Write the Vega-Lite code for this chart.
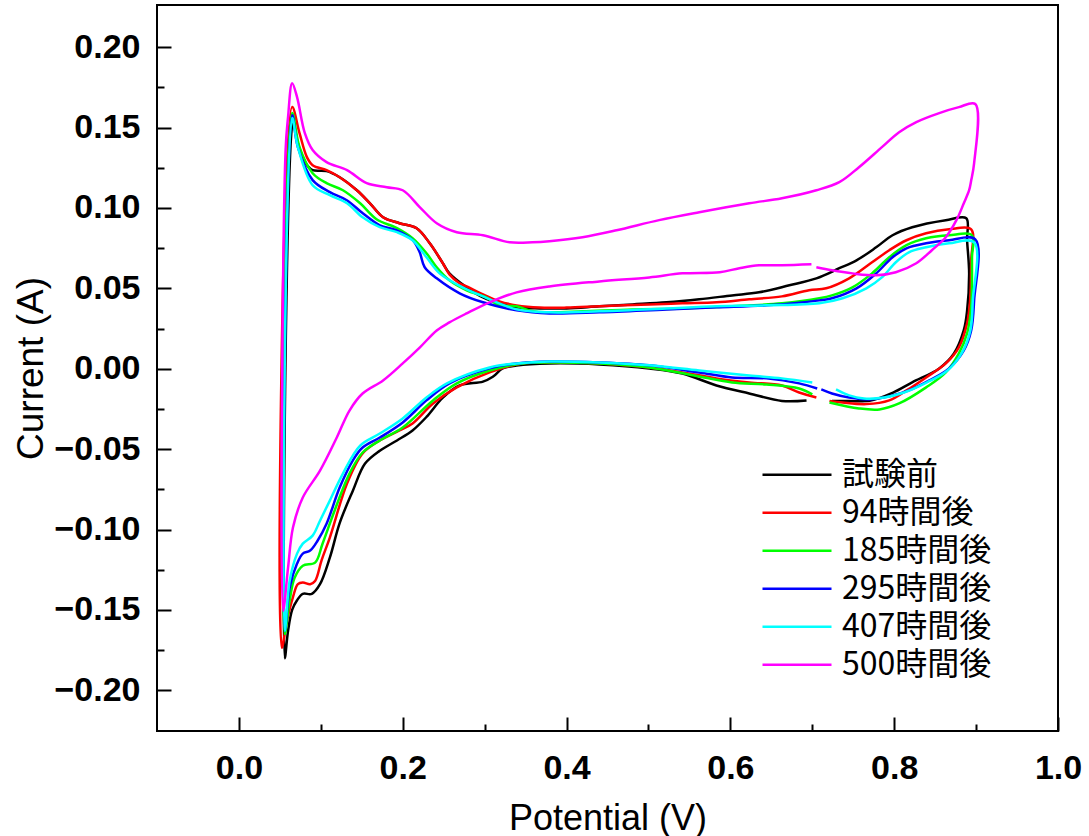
{
  "$schema": "https://vega.github.io/schema/vega-lite/v6.json",
  "autosize": "none",
  "padding": {"left": 157, "top": 5, "right": 31, "bottom": 105},
  "width": 901,
  "height": 726,
  "background": "white",
  "config": {"view": {"stroke": "black", "strokeWidth": 2}},
  "data": {"values": [
    {"s":"試験前","x":0.724,"y":-0.020},{"s":"試験前","x":0.745,"y":-0.020},{"s":"試験前","x":0.770,"y":-0.020},{"s":"試験前","x":0.798,"y":-0.015},{"s":"試験前","x":0.822,"y":-0.0085},{"s":"試験前","x":0.855,"y":0.0002},{"s":"試験前","x":0.873,"y":0.0095},{"s":"試験前","x":0.885,"y":0.024},{"s":"試験前","x":0.889,"y":0.036},{"s":"試験前","x":0.8915,"y":0.0593},{"s":"試験前","x":0.889,"y":0.080},{"s":"試験前","x":0.888,"y":0.0936},{"s":"試験前","x":0.863,"y":0.0924},{"s":"試験前","x":0.822,"y":0.088},{"s":"試験前","x":0.798,"y":0.083},{"s":"試験前","x":0.778,"y":0.0755},{"s":"試験前","x":0.754,"y":0.0674},{"s":"試験前","x":0.733,"y":0.0625},{"s":"試験前","x":0.705,"y":0.0562},{"s":"試験前","x":0.672,"y":0.0519},{"s":"試験前","x":0.635,"y":0.0475},{"s":"試験前","x":0.602,"y":0.0456},{"s":"試験前","x":0.562,"y":0.0432},{"s":"試験前","x":0.522,"y":0.0413},{"s":"試験前","x":0.4805,"y":0.040},{"s":"試験前","x":0.440,"y":0.0388},{"s":"試験前","x":0.400,"y":0.0375},{"s":"試験前","x":0.367,"y":0.0375},{"s":"試験前","x":0.339,"y":0.0382},{"s":"試験前","x":0.318,"y":0.0407},{"s":"試験前","x":0.298,"y":0.0444},{"s":"試験前","x":0.278,"y":0.0506},{"s":"試験前","x":0.257,"y":0.0593},{"s":"試験前","x":0.249,"y":0.0656},{"s":"試験前","x":0.233,"y":0.078},{"s":"試験前","x":0.217,"y":0.0874},{"s":"試験前","x":0.196,"y":0.0905},{"s":"試験前","x":0.176,"y":0.0942},{"s":"試験前","x":0.160,"y":0.1029},{"s":"試験前","x":0.144,"y":0.111},{"s":"試験前","x":0.123,"y":0.1191},{"s":"試験前","x":0.107,"y":0.1229},{"s":"試験前","x":0.090,"y":0.1235},{"s":"試験前","x":0.084,"y":0.126},{"s":"試験前","x":0.077,"y":0.1328},{"s":"試験前","x":0.071,"y":0.1421},{"s":"試験前","x":0.066,"y":0.1534},{"s":"試験前","x":0.056,"y":-0.180},{"s":"試験前","x":0.060,"y":-0.163},{"s":"試験前","x":0.065,"y":-0.150},{"s":"試験前","x":0.071,"y":-0.144},{"s":"試験前","x":0.078,"y":-0.140},{"s":"試験前","x":0.089,"y":-0.140},{"s":"試験前","x":0.099,"y":-0.134},{"s":"試験前","x":0.111,"y":-0.1175},{"s":"試験前","x":0.123,"y":-0.096},{"s":"試験前","x":0.139,"y":-0.076},{"s":"試験前","x":0.154,"y":-0.059},{"s":"試験前","x":0.172,"y":-0.051},{"s":"試験前","x":0.193,"y":-0.0446},{"s":"試験前","x":0.212,"y":-0.0384},{"s":"試験前","x":0.229,"y":-0.030},{"s":"試験前","x":0.249,"y":-0.018},{"s":"試験前","x":0.2695,"y":-0.0104},{"s":"試験前","x":0.298,"y":-0.008},{"s":"試験前","x":0.310,"y":-0.005},{"s":"試験前","x":0.322,"y":0.0002},{"s":"試験前","x":0.339,"y":0.002},{"s":"試験前","x":0.379,"y":0.0033},{"s":"試験前","x":0.440,"y":0.0027},{"s":"試験前","x":0.501,"y":0.0002},{"s":"試験前","x":0.5415,"y":-0.003},{"s":"試験前","x":0.583,"y":-0.0104},{"s":"試験前","x":0.623,"y":-0.0154},{"s":"試験前","x":0.663,"y":-0.020},{"s":"試験前","x":0.693,"y":-0.0197},

    {"s":"94時間後","x":0.721,"y":-0.020},{"s":"94時間後","x":0.737,"y":-0.021},{"s":"94時間後","x":0.766,"y":-0.022},{"s":"94時間後","x":0.794,"y":-0.0197},{"s":"94時間後","x":0.815,"y":-0.0135},{"s":"94時間後","x":0.839,"y":-0.0054},{"s":"94時間後","x":0.863,"y":0.0033},{"s":"94時間後","x":0.879,"y":0.0133},{"s":"94時間後","x":0.889,"y":0.0282},{"s":"94時間後","x":0.8927,"y":0.0425},{"s":"94時間後","x":0.894,"y":0.0674},{"s":"94時間後","x":0.894,"y":0.0867},{"s":"94時間後","x":0.867,"y":0.0867},{"s":"94時間後","x":0.839,"y":0.0842},{"s":"94時間後","x":0.815,"y":0.0799},{"s":"94時間後","x":0.794,"y":0.0737},{"s":"94時間後","x":0.773,"y":0.0662},{"s":"94時間後","x":0.745,"y":0.0562},{"s":"94時間後","x":0.717,"y":0.050},{"s":"94時間後","x":0.696,"y":0.0488},{"s":"94時間後","x":0.663,"y":0.045},{"s":"94時間後","x":0.623,"y":0.0432},{"s":"94時間後","x":0.583,"y":0.0413},{"s":"94時間後","x":0.5415,"y":0.0407},{"s":"94時間後","x":0.501,"y":0.040},{"s":"94時間後","x":0.440,"y":0.0388},{"s":"94時間後","x":0.400,"y":0.038},{"s":"94時間後","x":0.367,"y":0.038},{"s":"94時間後","x":0.339,"y":0.0394},{"s":"94時間後","x":0.318,"y":0.0419},{"s":"94時間後","x":0.298,"y":0.0463},{"s":"94時間後","x":0.278,"y":0.0512},{"s":"94時間後","x":0.2695,"y":0.0531},{"s":"94時間後","x":0.257,"y":0.0587},{"s":"94時間後","x":0.249,"y":0.0656},{"s":"94時間後","x":0.233,"y":0.078},{"s":"94時間後","x":0.217,"y":0.0874},{"s":"94時間後","x":0.196,"y":0.0905},{"s":"94時間後","x":0.176,"y":0.0942},{"s":"94時間後","x":0.160,"y":0.1029},{"s":"94時間後","x":0.144,"y":0.111},{"s":"94時間後","x":0.123,"y":0.1191},{"s":"94時間後","x":0.107,"y":0.1235},{"s":"94時間後","x":0.090,"y":0.1266},{"s":"94時間後","x":0.083,"y":0.1316},{"s":"94時間後","x":0.074,"y":0.1465},{"s":"94時間後","x":0.065,"y":0.1627},{"s":"94時間後","x":0.0524,"y":-0.1735},{"s":"94時間後","x":0.0585,"y":-0.157},{"s":"94時間後","x":0.066,"y":-0.142},{"s":"94時間後","x":0.072,"y":-0.134},{"s":"94時間後","x":0.078,"y":-0.133},{"s":"94時間後","x":0.087,"y":-0.134},{"s":"94時間後","x":0.093,"y":-0.132},{"s":"94時間後","x":0.101,"y":-0.119},{"s":"94時間後","x":0.111,"y":-0.105},{"s":"94時間後","x":0.132,"y":-0.0714},{"s":"94時間後","x":0.151,"y":-0.0527},{"s":"94時間後","x":0.172,"y":-0.0446},{"s":"94時間後","x":0.196,"y":-0.0384},{"s":"94時間後","x":0.212,"y":-0.034},{"s":"94時間後","x":0.237,"y":-0.0216},{"s":"94時間後","x":0.266,"y":-0.0116},{"s":"94時間後","x":0.306,"y":-0.0023},{"s":"94時間後","x":0.346,"y":0.0033},{"s":"94時間後","x":0.379,"y":0.0039},{"s":"94時間後","x":0.440,"y":0.0033},{"s":"94時間後","x":0.501,"y":0.0008},{"s":"94時間後","x":0.5415,"y":-0.0023},{"s":"94時間後","x":0.583,"y":-0.006},{"s":"94時間後","x":0.623,"y":-0.0085},{"s":"94時間後","x":0.663,"y":-0.0104},{"s":"94時間後","x":0.684,"y":-0.0148},{"s":"94時間後","x":0.705,"y":-0.0179},

    {"s":"185時間後","x":0.721,"y":-0.021},{"s":"185時間後","x":0.757,"y":-0.0247},{"s":"185時間後","x":0.782,"y":-0.0253},{"s":"185時間後","x":0.806,"y":-0.0216},{"s":"185時間後","x":0.839,"y":-0.0116},{"s":"185時間後","x":0.863,"y":-0.0023},{"s":"185時間後","x":0.879,"y":0.0095},{"s":"185時間後","x":0.889,"y":0.022},{"s":"185時間後","x":0.894,"y":0.0382},{"s":"185時間後","x":0.895,"y":0.0693},{"s":"185時間後","x":0.895,"y":0.083},{"s":"185時間後","x":0.867,"y":0.083},{"s":"185時間後","x":0.839,"y":0.0811},{"s":"185時間後","x":0.815,"y":0.0768},{"s":"185時間後","x":0.794,"y":0.0693},{"s":"185時間後","x":0.773,"y":0.0593},{"s":"185時間後","x":0.749,"y":0.0506},{"s":"185時間後","x":0.724,"y":0.0456},{"s":"185時間後","x":0.7085,"y":0.0438},{"s":"185時間後","x":0.663,"y":0.0407},{"s":"185時間後","x":0.602,"y":0.0388},{"s":"185時間後","x":0.5415,"y":0.0375},{"s":"185時間後","x":0.4805,"y":0.0369},{"s":"185時間後","x":0.4195,"y":0.0357},{"s":"185時間後","x":0.379,"y":0.0351},{"s":"185時間後","x":0.3585,"y":0.0357},{"s":"185時間後","x":0.339,"y":0.0388},{"s":"185時間後","x":0.318,"y":0.0394},{"s":"185時間後","x":0.302,"y":0.0444},{"s":"185時間後","x":0.278,"y":0.0488},{"s":"185時間後","x":0.257,"y":0.055},{"s":"185時間後","x":0.2415,"y":0.0631},{"s":"185時間後","x":0.229,"y":0.0718},{"s":"185時間後","x":0.212,"y":0.0811},{"s":"185時間後","x":0.193,"y":0.0874},{"s":"185時間後","x":0.168,"y":0.093},{"s":"185時間後","x":0.148,"y":0.1029},{"s":"185時間後","x":0.127,"y":0.111},{"s":"185時間後","x":0.107,"y":0.1154},{"s":"185時間後","x":0.090,"y":0.1216},{"s":"185時間後","x":0.074,"y":0.1378},{"s":"185時間後","x":0.065,"y":0.159},{"s":"185時間後","x":0.056,"y":-0.165},{"s":"185時間後","x":0.062,"y":-0.144},{"s":"185時間後","x":0.068,"y":-0.130},{"s":"185時間後","x":0.078,"y":-0.1225},{"s":"185時間後","x":0.093,"y":-0.1206},{"s":"185時間後","x":0.102,"y":-0.109},{"s":"185時間後","x":0.117,"y":-0.088},{"s":"185時間後","x":0.135,"y":-0.0652},{"s":"185時間後","x":0.151,"y":-0.0521},{"s":"185時間後","x":0.172,"y":-0.0446},{"s":"185時間後","x":0.200,"y":-0.0365},{"s":"185時間後","x":0.237,"y":-0.0197},{"s":"185時間後","x":0.266,"y":-0.0091},{"s":"185時間後","x":0.306,"y":-0.0011},{"s":"185時間後","x":0.346,"y":0.0033},{"s":"185時間後","x":0.379,"y":0.0039},{"s":"185時間後","x":0.440,"y":0.0033},{"s":"185時間後","x":0.501,"y":0.0008},{"s":"185時間後","x":0.562,"y":-0.0048},{"s":"185時間後","x":0.602,"y":-0.0085},{"s":"185時間後","x":0.644,"y":-0.0098},{"s":"185時間後","x":0.684,"y":-0.0123},{"s":"185時間後","x":0.700,"y":-0.016},

    {"s":"295時間後","x":0.711,"y":-0.0129},{"s":"295時間後","x":0.724,"y":-0.0154},{"s":"295時間後","x":0.745,"y":-0.0179},{"s":"295時間後","x":0.770,"y":-0.0191},{"s":"295時間後","x":0.794,"y":-0.0172},{"s":"295時間後","x":0.818,"y":-0.0135},{"s":"295時間後","x":0.843,"y":-0.0073},{"s":"295時間後","x":0.867,"y":0.0002},{"s":"295時間後","x":0.885,"y":0.0114},{"s":"295時間後","x":0.894,"y":0.0238},{"s":"295時間後","x":0.8976,"y":0.0425},{"s":"295時間後","x":0.899,"y":0.0805},{"s":"295時間後","x":0.867,"y":0.0799},{"s":"295時間後","x":0.839,"y":0.078},{"s":"295時間後","x":0.815,"y":0.0749},{"s":"295時間後","x":0.798,"y":0.0693},{"s":"295時間後","x":0.778,"y":0.0593},{"s":"295時間後","x":0.754,"y":0.050},{"s":"295時間後","x":0.724,"y":0.0438},{"s":"295時間後","x":0.7085,"y":0.0425},{"s":"295時間後","x":0.644,"y":0.0394},{"s":"295時間後","x":0.583,"y":0.0382},{"s":"295時間後","x":0.522,"y":0.0369},{"s":"295時間後","x":0.440,"y":0.0351},{"s":"295時間後","x":0.379,"y":0.0344},{"s":"295時間後","x":0.339,"y":0.0363},{"s":"295時間後","x":0.298,"y":0.0413},{"s":"295時間後","x":0.2695,"y":0.0469},{"s":"295時間後","x":0.2415,"y":0.0562},{"s":"295時間後","x":0.2268,"y":0.0631},{"s":"295時間後","x":0.2207,"y":0.0724},{"s":"295時間後","x":0.2122,"y":0.0799},{"s":"295時間後","x":0.1927,"y":0.0861},{"s":"295時間後","x":0.172,"y":0.0892},{"s":"295時間後","x":0.1512,"y":0.0967},{"s":"295時間後","x":0.1317,"y":0.1048},{"s":"295時間後","x":0.111,"y":0.1098},{"s":"295時間後","x":0.090,"y":0.1173},{"s":"295時間後","x":0.072,"y":0.1378},{"s":"295時間後","x":0.065,"y":0.1577},{"s":"295時間後","x":0.056,"y":-0.163},{"s":"295時間後","x":0.062,"y":-0.136},{"s":"295時間後","x":0.071,"y":-0.1212},{"s":"295時間後","x":0.078,"y":-0.115},{"s":"295時間後","x":0.087,"y":-0.1131},{"s":"295時間後","x":0.096,"y":-0.107},{"s":"295時間後","x":0.107,"y":-0.0964},{"s":"295時間後","x":0.123,"y":-0.0739},{"s":"295時間後","x":0.139,"y":-0.0571},{"s":"295時間後","x":0.151,"y":-0.049},{"s":"295時間後","x":0.172,"y":-0.0428},{"s":"295時間後","x":0.200,"y":-0.0334},{"s":"295時間後","x":0.229,"y":-0.0197},{"s":"295時間後","x":0.257,"y":-0.0091},{"s":"295時間後","x":0.306,"y":0.0002},{"s":"295時間後","x":0.339,"y":0.0033},{"s":"295時間後","x":0.379,"y":0.0045},{"s":"295時間後","x":0.440,"y":0.0039},{"s":"295時間後","x":0.501,"y":0.0021},{"s":"295時間後","x":0.562,"y":-0.0023},{"s":"295時間後","x":0.602,"y":-0.0054},{"s":"295時間後","x":0.644,"y":-0.006},{"s":"295時間後","x":0.684,"y":-0.0091},{"s":"295時間後","x":0.706,"y":-0.0123},

    {"s":"407時間後","x":0.729,"y":-0.0129},{"s":"407時間後","x":0.745,"y":-0.0166},{"s":"407時間後","x":0.763,"y":-0.0185},{"s":"407時間後","x":0.788,"y":-0.0179},{"s":"407時間後","x":0.812,"y":-0.0148},{"s":"407時間後","x":0.840,"y":-0.0085},{"s":"407時間後","x":0.865,"y":-0.0011},{"s":"407時間後","x":0.883,"y":0.0102},{"s":"407時間後","x":0.893,"y":0.0238},{"s":"407時間後","x":0.896,"y":0.0425},{"s":"407時間後","x":0.8976,"y":0.0786},{"s":"407時間後","x":0.867,"y":0.078},{"s":"407時間後","x":0.839,"y":0.0755},{"s":"407時間後","x":0.818,"y":0.0724},{"s":"407時間後","x":0.802,"y":0.0662},{"s":"407時間後","x":0.785,"y":0.0568},{"s":"407時間後","x":0.766,"y":0.050},{"s":"407時間後","x":0.737,"y":0.0438},{"s":"407時間後","x":0.7085,"y":0.0407},{"s":"407時間後","x":0.644,"y":0.0394},{"s":"407時間後","x":0.583,"y":0.0388},{"s":"407時間後","x":0.522,"y":0.0375},{"s":"407時間後","x":0.440,"y":0.0357},{"s":"407時間後","x":0.379,"y":0.0351},{"s":"407時間後","x":0.339,"y":0.0369},{"s":"407時間後","x":0.298,"y":0.045},{"s":"407時間後","x":0.273,"y":0.0506},{"s":"407時間後","x":0.245,"y":0.0593},{"s":"407時間後","x":0.229,"y":0.0693},{"s":"407時間後","x":0.212,"y":0.0799},{"s":"407時間後","x":0.193,"y":0.0849},{"s":"407時間後","x":0.172,"y":0.088},{"s":"407時間後","x":0.151,"y":0.0942},{"s":"407時間後","x":0.132,"y":0.1029},{"s":"407時間後","x":0.111,"y":0.1079},{"s":"407時間後","x":0.090,"y":0.1141},{"s":"407時間後","x":0.072,"y":0.1378},{"s":"407時間後","x":0.065,"y":0.1559},{"s":"407時間後","x":0.056,"y":-0.163},{"s":"407時間後","x":0.062,"y":-0.1318},{"s":"407時間後","x":0.071,"y":-0.115},{"s":"407時間後","x":0.078,"y":-0.1088},{"s":"407時間後","x":0.090,"y":-0.1038},{"s":"407時間後","x":0.099,"y":-0.0945},{"s":"407時間後","x":0.111,"y":-0.082},{"s":"407時間後","x":0.127,"y":-0.0652},{"s":"407時間後","x":0.148,"y":-0.0478},{"s":"407時間後","x":0.172,"y":-0.0403},{"s":"407時間後","x":0.200,"y":-0.0309},{"s":"407時間後","x":0.229,"y":-0.0179},{"s":"407時間後","x":0.254,"y":-0.0091},{"s":"407時間後","x":0.306,"y":0.0008},{"s":"407時間後","x":0.339,"y":0.0033},{"s":"407時間後","x":0.379,"y":0.0045},{"s":"407時間後","x":0.440,"y":0.0039},{"s":"407時間後","x":0.501,"y":0.0021},{"s":"407時間後","x":0.562,"y":-0.0011},{"s":"407時間後","x":0.623,"y":-0.0042},{"s":"407時間後","x":0.663,"y":-0.006},{"s":"407時間後","x":0.700,"y":-0.0085},

    {"s":"500時間後","x":0.705,"y":0.0631},{"s":"500時間後","x":0.724,"y":0.0612},{"s":"500時間後","x":0.749,"y":0.0593},{"s":"500時間後","x":0.778,"y":0.0581},{"s":"500時間後","x":0.802,"y":0.060},{"s":"500時間後","x":0.827,"y":0.0656},{"s":"500時間後","x":0.846,"y":0.0737},{"s":"500時間後","x":0.863,"y":0.0818},{"s":"500時間後","x":0.876,"y":0.0924},{"s":"500時間後","x":0.885,"y":0.1029},{"s":"500時間後","x":0.8915,"y":0.111},{"s":"500時間後","x":0.894,"y":0.117},{"s":"500時間後","x":0.8976,"y":0.1278},{"s":"500時間後","x":0.899,"y":0.1646},{"s":"500時間後","x":0.879,"y":0.1627},{"s":"500時間後","x":0.855,"y":0.159},{"s":"500時間後","x":0.827,"y":0.1534},{"s":"500時間後","x":0.806,"y":0.1471},{"s":"500時間後","x":0.785,"y":0.1378},{"s":"500時間後","x":0.757,"y":0.1253},{"s":"500時間後","x":0.733,"y":0.116},{"s":"500時間後","x":0.705,"y":0.111},{"s":"500時間後","x":0.663,"y":0.106},{"s":"500時間後","x":0.623,"y":0.1029},{"s":"500時間後","x":0.562,"y":0.0973},{"s":"500時間後","x":0.513,"y":0.0924},{"s":"500時間後","x":0.461,"y":0.0861},{"s":"500時間後","x":0.4195,"y":0.0818},{"s":"500時間後","x":0.379,"y":0.0793},{"s":"500時間後","x":0.3585,"y":0.0786},{"s":"500時間後","x":0.3305,"y":0.0786},{"s":"500時間後","x":0.298,"y":0.083},{"s":"500時間後","x":0.266,"y":0.0849},{"s":"500時間後","x":0.2415,"y":0.0905},{"s":"500時間後","x":0.221,"y":0.1004},{"s":"500時間後","x":0.200,"y":0.111},{"s":"500時間後","x":0.1805,"y":0.1129},{"s":"500時間後","x":0.156,"y":0.1154},{"s":"500時間後","x":0.132,"y":0.1235},{"s":"500時間後","x":0.107,"y":0.1285},{"s":"500時間後","x":0.090,"y":0.136},{"s":"500時間後","x":0.0805,"y":0.1465},{"s":"500時間後","x":0.071,"y":0.1689},{"s":"500時間後","x":0.065,"y":0.1776},{"s":"500時間後","x":0.060,"y":0.1565},{"s":"500時間後","x":0.057,"y":0.136},{"s":"500時間後","x":0.054,"y":-0.1505},{"s":"500時間後","x":0.060,"y":-0.1237},{"s":"500時間後","x":0.066,"y":-0.0988},{"s":"500時間後","x":0.078,"y":-0.0801},{"s":"500時間後","x":0.099,"y":-0.0634},{"s":"500時間後","x":0.1195,"y":-0.0428},{"s":"500時間後","x":0.135,"y":-0.026},{"s":"500時間後","x":0.151,"y":-0.0154},{"s":"500時間後","x":0.176,"y":-0.0073},{"s":"500時間後","x":0.200,"y":0.0033},{"s":"500時間後","x":0.221,"y":0.0133},{"s":"500時間後","x":0.2415,"y":0.0238},{"s":"500時間後","x":0.257,"y":0.0288},{"s":"500時間後","x":0.278,"y":0.0344},{"s":"500時間後","x":0.306,"y":0.0413},{"s":"500時間後","x":0.339,"y":0.0475},{"s":"500時間後","x":0.379,"y":0.0512},{"s":"500時間後","x":0.440,"y":0.0543},{"s":"500時間後","x":0.501,"y":0.0568},{"s":"500時間後","x":0.5415,"y":0.0593},{"s":"500時間後","x":0.587,"y":0.060},{"s":"500時間後","x":0.611,"y":0.0625},{"s":"500時間後","x":0.635,"y":0.0643},{"s":"500時間後","x":0.663,"y":0.0643},{"s":"500時間後","x":0.699,"y":0.0649}
  ]},
  "resolve": {"axis": {"x": "independent", "y": "independent"}},
  "layer": [
    {
      "mark": {"type": "line", "strokeWidth": 2.5, "clip": true, "interpolate": "catmull-rom"},
      "encoding": {
        "order": {"value": null},
        "x": {
          "field": "x", "type": "quantitative",
          "scale": {"domain": [-0.1, 1.0], "nice": false, "zero": false},
          "axis": {
            "orient": "bottom",
            "values": [0, 0.2, 0.4, 0.6, 0.8, 1.0], "format": ".1f",
            "tickSize": -14, "tickWidth": 2, "tickColor": "black", "domain": false, "grid": false,
            "labelFlush": false, "labelOverlap": false,
            "labelFont": "Liberation Sans", "labelFontSize": 34, "labelFontWeight": "bold", "labelColor": "black", "labelPadding": 34,
            "title": "Potential (V)", "titleFont": "Liberation Sans", "titleFontSize": 36, "titleFontWeight": "normal", "titleColor": "black", "titlePadding": 16
          }
        },
        "y": {
          "field": "y", "type": "quantitative",
          "scale": {"domain": [-0.2253, 0.2262], "nice": false, "zero": false},
          "axis": {
            "orient": "left",
            "values": [-0.2, -0.15, -0.1, -0.05, 0, 0.05, 0.1, 0.15, 0.2], "format": ".2f",
            "tickSize": -14, "tickWidth": 2, "tickColor": "black", "domain": false, "grid": false,
            "labelFlush": false, "labelOverlap": false,
            "labelFont": "Liberation Sans", "labelFontSize": 34, "labelFontWeight": "bold", "labelColor": "black", "labelPadding": 31,
            "title": "Current (A)", "titleFont": "Liberation Sans", "titleFontSize": 37, "titleFontWeight": "normal", "titleColor": "black", "titlePadding": 3
          }
        },
        "color": {
          "field": "s", "type": "nominal",
          "scale": {
            "domain": ["試験前", "94時間後", "185時間後", "295時間後", "407時間後", "500時間後"],
            "range": ["#000000", "#ff0000", "#00ff00", "#0000ff", "#00ffff", "#ff00ff"]
          },
          "legend": {
            "orient": "none", "legendX": 604, "legendY": 451, "title": null, "padding": 0,
            "symbolType": "stroke", "symbolSize": 4761, "symbolStrokeWidth": 2.5,
            "labelFont": "Noto Sans CJK JP", "labelFontSize": 32, "labelColor": "black", "labelOffset": 9,
            "clipHeight": 37.4, "rowPadding": 0, "labelLimit": 400
          }
        }
      }
    },
    {
      "mark": {"type": "point", "opacity": 0},
      "encoding": {
        "x": {
          "field": "x", "type": "quantitative",
          "axis": {
            "orient": "bottom", "values": [0.1, 0.3, 0.5, 0.7, 0.9],
            "labels": false, "title": null, "domain": false, "grid": false,
            "tickSize": -7, "tickWidth": 2, "tickColor": "black"
          }
        },
        "y": {
          "field": "y", "type": "quantitative",
          "axis": {
            "orient": "left", "values": [-0.175, -0.125, -0.075, -0.025, 0.025, 0.075, 0.125, 0.175],
            "labels": false, "title": null, "domain": false, "grid": false,
            "tickSize": -7, "tickWidth": 2, "tickColor": "black"
          }
        }
      }
    }
  ]
}
